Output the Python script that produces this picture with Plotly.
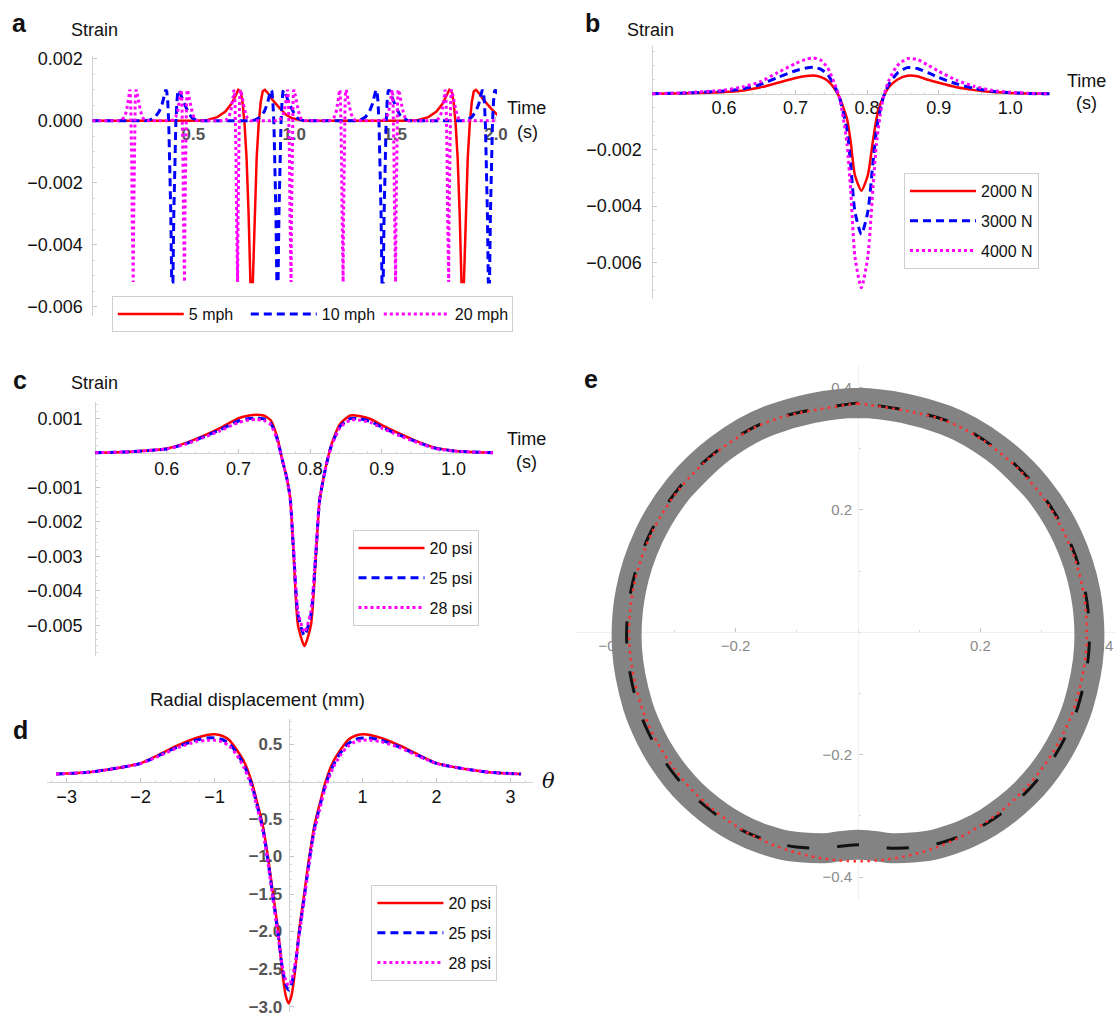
import math
import plotly.graph_objects as go

W, H = 1115, 1016
FONT = "Liberation Sans, Arial, Helvetica, sans-serif"
RED, BLUE, MAGENTA = "#ff0000", "#0000ff", "#ff00ff"

# ---------------- data ----------------
# panel a : pulse centres (s) and pulse profiles
A_CENTRES_5MPH = [0.789, 1.835]
A_CENTRES_10MPH = [0.396, 0.917, 1.438, 1.965]
A_CENTRES_20MPH = [0.201, 0.455, 0.718, 0.983, 1.241, 1.501, 1.764]
A_OFFSETS_5MPH = [-0.27, -0.22, -0.17, -0.13, -0.10, -0.08, -0.066, -0.055, -0.045, -0.035, -0.025,
                  -0.015, -0.006, 0.006, 0.015, 0.025, 0.035, 0.045, 0.055, 0.066, 0.08, 0.10, 0.14,
                  0.17, 0.20, 0.26]
A_OFFSETS_10MPH = [-0.135, -0.11, -0.085, -0.065, -0.05, -0.04, -0.033, -0.0275, -0.0225, -0.0175,
                   -0.0125, -0.0075, -0.003, 0.003, 0.0075, 0.0125, 0.0175, 0.0225, 0.0275, 0.033,
                   0.04, 0.05, 0.07, 0.085, 0.10, 0.13]
A_OFFSETS_20MPH = [-0.0675, -0.055, -0.0425, -0.0325, -0.025, -0.02, -0.0165, -0.01375, -0.01125,
                   -0.00875, -0.00625, -0.00375, -0.0015, 0.0015, 0.00375, 0.00625, 0.00875, 0.01125,
                   0.01375, 0.0165, 0.02, 0.025, 0.035, 0.0425, 0.05, 0.065]
A_PULSE_STRAIN = [0, 0.00003, 0.00012, 0.0003, 0.00055, 0.0008, 0.001, 0.00095, 0.0006, -0.0001,
                  -0.0012, -0.003, -0.0052, -0.0052, -0.003, -0.0012, -0.0001, 0.0006, 0.00095, 0.001,
                  0.0009, 0.0007, 0.0004, 0.0002, 0.00008, 0]
A_T_START, A_T_END = 0.0, 2.0

# panel b / c : time grid (s) and strain
T_BC = [0.5, 0.55, 0.6, 0.625, 0.65, 0.675, 0.7, 0.715, 0.725, 0.735, 0.745, 0.754, 0.761, 0.767,
        0.772, 0.777, 0.783, 0.792, 0.801, 0.808, 0.813, 0.818, 0.823, 0.83, 0.842, 0.856, 0.87,
        0.885, 0.9, 0.925, 0.95, 0.975, 1.0, 1.025, 1.055]
B_2000N = [0, 0.00002, 0.00006, 0.00011, 0.00022, 0.00039, 0.00056, 0.00063, 0.00065, 0.0006,
           0.00046, 0.0002, -0.0001, -0.0005, -0.0009, -0.0017, -0.0029, -0.00345, -0.0029, -0.0017,
           -0.0009, -0.0004, -0.0001, 0.00022, 0.0005, 0.00064, 0.00062, 0.0005, 0.00039, 0.00023,
           0.00013, 0.00006, 0.00003, 0.00001, 0]
B_3000N = [0, 0.00003, 0.0001, 0.00017, 0.00032, 0.00058, 0.00082, 0.00092, 0.00094, 0.00088,
           0.00068, 0.0003, -0.0001, -0.0007, -0.0013, -0.0025, -0.0042, -0.0050, -0.0042, -0.0025,
           -0.0013, -0.0006, -0.0001, 0.00032, 0.00073, 0.00093, 0.0009, 0.00075, 0.00058, 0.00035,
           0.00019, 0.00009, 0.00004, 0.00001, 0]
B_4000N = [0, 0.00004, 0.00013, 0.00024, 0.00042, 0.00075, 0.00108, 0.00123, 0.00127, 0.0012,
           0.00092, 0.0004, -0.0001, -0.0009, -0.0018, -0.0034, -0.0058, -0.0069, -0.0058, -0.0034,
           -0.0018, -0.0008, -0.0001, 0.00045, 0.001, 0.00125, 0.00122, 0.00102, 0.0008, 0.00048,
           0.00026, 0.00012, 0.00005, 0.00002, 0]
C_20PSI = [0, 0.00003, 0.00012, 0.00027, 0.00048, 0.00072, 0.001, 0.00108, 0.0011, 0.00108,
           0.00094, 0.00045, -0.0002, -0.0007, -0.0013, -0.003, -0.005, -0.0056, -0.005, -0.003,
           -0.0014, -0.0008, -0.0003, 0.00026, 0.00084, 0.00108, 0.00106, 0.00097, 0.0008, 0.00055,
           0.00032, 0.00014, 0.00006, 0.00002, 0]
C_25PSI = [0, 0.00003, 0.00011, 0.00025, 0.00045, 0.00067, 0.00092, 0.00099, 0.001, 0.00098,
           0.00085, 0.0004, -0.0002, -0.0007, -0.0013, -0.0029, -0.0047, -0.0053, -0.0047, -0.0029,
           -0.0014, -0.0008, -0.0003, 0.00023, 0.00077, 0.00099, 0.00098, 0.0009, 0.00074, 0.00051,
           0.0003, 0.00013, 0.00005, 0.00002, 0]
C_28PSI = [0, 0.00003, 0.00011, 0.00024, 0.00043, 0.00064, 0.00088, 0.00095, 0.00096, 0.00094,
           0.00081, 0.00037, -0.0002, -0.0007, -0.0013, -0.0028, -0.0046, -0.0052, -0.0046, -0.0028,
           -0.0014, -0.0008, -0.0003, 0.00021, 0.00074, 0.00095, 0.00094, 0.00087, 0.00071, 0.00049,
           0.00029, 0.00012, 0.00005, 0.00002, 0]

# panel d : angle (rad) and radial displacement (mm)
D_THETA = [-3.1416, -2.75, -2.5, -2.25, -2.0, -1.75, -1.5, -1.25, -1.1, -1.0, -0.9, -0.8, -0.7,
           -0.6, -0.5, -0.42, -0.35, -0.28, -0.21, -0.14, -0.09, -0.04, 0.0, 0.04, 0.09, 0.14, 0.21,
           0.28, 0.35, 0.42, 0.5, 0.6, 0.7, 0.8, 0.9, 1.0, 1.1, 1.25, 1.5, 1.75, 2.0, 2.25, 2.5,
           2.75, 3.1416]
D_20PSI = [0.10, 0.12, 0.15, 0.19, 0.245, 0.36, 0.48, 0.58, 0.62, 0.63, 0.61, 0.55, 0.42, 0.26, 0.0,
           -0.3, -0.58, -1.0, -1.5, -2.0, -2.5, -2.85, -2.96, -2.85, -2.5, -2.0, -1.5, -1.0, -0.58,
           -0.3, 0.0, 0.26, 0.42, 0.55, 0.61, 0.63, 0.62, 0.58, 0.48, 0.36, 0.245, 0.19, 0.15, 0.12,
           0.10]
D_25PSI = [0.10, 0.12, 0.15, 0.19, 0.24, 0.35, 0.46, 0.55, 0.58, 0.58, 0.56, 0.5, 0.38, 0.21, -0.04,
           -0.34, -0.62, -1.05, -1.55, -2.05, -2.45, -2.7, -2.78, -2.7, -2.45, -2.05, -1.55, -1.05,
           -0.62, -0.34, -0.04, 0.21, 0.38, 0.5, 0.56, 0.58, 0.58, 0.55, 0.46, 0.35, 0.24, 0.19, 0.15,
           0.12, 0.10]
D_28PSI = [0.10, 0.12, 0.15, 0.19, 0.24, 0.34, 0.45, 0.53, 0.55, 0.55, 0.53, 0.47, 0.35, 0.18, -0.07,
           -0.37, -0.65, -1.08, -1.58, -2.07, -2.42, -2.65, -2.72, -2.65, -2.42, -2.07, -1.58, -1.08,
           -0.65, -0.37, -0.07, 0.18, 0.35, 0.47, 0.53, 0.55, 0.55, 0.53, 0.45, 0.34, 0.24, 0.19, 0.15,
           0.12, 0.10]

# panel e : undeformed radius and exaggeration of the 20 psi displacement
E_R0 = 0.374
E_SCALE = 0.0091  # plot units per mm of radial displacement

A_NAMES = ["5 mph", "10 mph", "20 mph"]
B_NAMES = ["2000 N", "3000 N", "4000 N"]
C_NAMES = ["20 psi", "25 psi", "28 psi"]

A_YTICKS = [0.002, 0.0, -0.002, -0.004, -0.006]
A_YTEXT = ["0.002", "0.000", "\u22120.002", "\u22120.004", "\u22120.006"]
A_XTICKS = [0.5, 1.0, 1.5, 2.0]
A_XTEXT = ["0.5", "1.0", "1.5", "2.0"]
B_YTICKS = [-0.002, -0.004, -0.006]
B_YTEXT = ["\u22120.002", "\u22120.004", "\u22120.006"]
BC_XTICKS = [0.6, 0.7, 0.8, 0.9, 1.0]
BC_XTEXT = ["0.6", "0.7", "0.8", "0.9", "1.0"]
C_YTICKS = [0.001, -0.001, -0.002, -0.003, -0.004, -0.005]
C_YTEXT = ["0.001", "\u22120.001", "\u22120.002", "\u22120.003", "\u22120.004", "\u22120.005"]
D_XTICKS = [-3, -2, -1, 1, 2, 3]
D_XTEXT = ["\u22123", "\u22122", "\u22121", "1", "2", "3"]
D_YTICKS = [0.5, -0.5, -1.0, -1.5, -2.0, -2.5, -3.0]
D_YTEXT = ["0.5", "\u22120.5", "\u22121.0", "\u22121.5", "\u22122.0", "\u22122.5", "\u22123.0"]
E_TICKS = [-0.4, -0.2, 0.2, 0.4]
E_TEXT = ["\u22120.4", "\u22120.2", "0.2", "0.4"]


def build_pulses(centres, offsets, values, t_start, t_end):
    xs, ys = [t_start], [0.0]
    for c in centres:
        for o, v in zip(offsets, values):
            xs.append(c + o)
            ys.append(v)
    if xs[-1] < t_end:
        xs.append(t_end)
        ys.append(0.0)
    return xs, ys


def polar_xy(theta, radius):
    xs = [r * math.sin(t) for t, r in zip(theta, radius)]
    ys = [-r * math.cos(t) for t, r in zip(theta, radius)]
    return xs, ys


# ---------------- layout helpers ----------------
def dom_x(l, r):
    return [l / W, r / W]


def dom_y(t, b):
    return [1 - b / H, 1 - t / H]


def cross(dom, rng, v):
    return dom[0] + (v - rng[0]) / (rng[1] - rng[0]) * (dom[1] - dom[0])


AXLINE = "#d0d0d0"


def axis(dom, rng, pos, tickvals, ticktext, font, standoff, minor_dtick=None):
    d = dict(domain=dom, range=rng, anchor="free", position=pos, showgrid=False, zeroline=False,
             showline=True, linecolor=AXLINE, linewidth=1, ticks="inside", ticklen=4,
             tickcolor="#c4c4c4", tickwidth=1, tickmode="array", tickvals=tickvals,
             ticktext=ticktext, tickfont=font, ticklabelstandoff=standoff,
             ticklabeloverflow="allow",
             layer="below traces", automargin=False, fixedrange=True)
    if minor_dtick is not None:
        d["minor"] = dict(ticks="inside", ticklen=2, tickcolor="#dadada", dtick=minor_dtick, tick0=0)
    return d


BLACK18 = dict(family=FONT, size=18, color="#111111")
GRAYB = dict(family=FONT, size=17, color="#555555", weight="bold")
GRAYE = dict(family=FONT, size=15, color="#8a8a8a")

# panel frames (pixel domains + ranges)
AX_XD, AX_XR = dom_x(92.4, 497.0), [0.0, 2.005]
AX_YD, AX_YR = dom_y(55.7, 316.1), [-0.0063, 0.0021]
BX_XD, BX_XR = dom_x(652.3, 1049.7), [0.5, 1.055]
BX_YD, BX_YR = dom_y(46.0, 298.9), [-0.0073, 0.0017]
CX_XD, CX_XR = dom_x(95.1, 493.0), [0.5, 1.055]
CX_YD, CX_YR = dom_y(402.0, 656.3), [-0.0059, 0.00147]
DX_XD, DX_XR = dom_x(47.4, 532.8), [-3.26, 3.3]
DX_YD, DX_YR = dom_y(718.5, 1011.8), [-3.07, 0.84]
EX_XD, EX_XR = dom_x(575.0, 1115.0), [-0.4624, 0.4199]
EX_YD, EX_YR = dom_y(365.0, 900.0), [-0.4374, 0.4368]

fig = go.Figure()

# ---------------- panel a ----------------
styles = [dict(color=RED, width=2.5),
          dict(color=BLUE, width=3, dash="8px,5px"),
          dict(color=MAGENTA, width=3, dash="3px,3px")]
a_series = [(A_CENTRES_5MPH, A_OFFSETS_5MPH), (A_CENTRES_10MPH, A_OFFSETS_10MPH),
            (A_CENTRES_20MPH, A_OFFSETS_20MPH)]
for (cen, off), name, st in zip(a_series, A_NAMES, styles):
    xs, ys = build_pulses(cen, off, A_PULSE_STRAIN, A_T_START, A_T_END)
    fig.add_trace(go.Scatter(x=xs, y=ys, mode="lines", line=st, name=name, xaxis="x", yaxis="y",
                             legend="legend", hoverinfo="skip"))

# ---------------- panel b ----------------
for vals, name, st, g in zip([B_2000N, B_3000N, B_4000N], B_NAMES, styles, ["b1", "b2", "b3"]):
    fig.add_trace(go.Scatter(x=T_BC, y=vals, mode="lines", line=dict(st, shape="spline", smoothing=0.6),
                             name=name, xaxis="x2", yaxis="y2", legend="legend2", legendgroup=g,
                             hoverinfo="skip"))

# ---------------- panel c ----------------
for vals, name, st, g in zip([C_20PSI, C_25PSI, C_28PSI], C_NAMES, styles, ["c1", "c2", "c3"]):
    fig.add_trace(go.Scatter(x=T_BC, y=vals, mode="lines", line=dict(st, shape="spline", smoothing=0.6),
                             name=name, xaxis="x3", yaxis="y3", legend="legend3", legendgroup=g,
                             hoverinfo="skip"))

# ---------------- panel d ----------------
for vals, name, st, g in zip([D_20PSI, D_25PSI, D_28PSI], C_NAMES, styles, ["d1", "d2", "d3"]):
    fig.add_trace(go.Scatter(x=D_THETA, y=vals, mode="lines", line=dict(st, shape="spline", smoothing=0.8),
                             name=name, xaxis="x4", yaxis="y4", legend="legend4", legendgroup=g,
                             hoverinfo="skip"))

# ---------------- panel e ----------------
# the loop is continued a little past its start so the thick band closes without a seam
theta_loop = D_THETA[-4:-1] + D_THETA + D_THETA[1:4]
disp_loop = D_20PSI[-4:-1] + D_20PSI + D_20PSI[1:4]
r_def_loop = [E_R0 + E_SCALE * u for u in disp_loop]
r_def = [E_R0 + E_SCALE * u for u in D_20PSI]
r_und = [E_R0 for _ in D_THETA]
bx, by = polar_xy(theta_loop, r_def_loop)
ex, ey = polar_xy(D_THETA, r_def)
ux, uy = polar_xy(D_THETA, r_und)
fig.add_trace(go.Scatter(x=bx, y=by, mode="lines", line=dict(color="#838383", width=30, shape="spline"),
                         xaxis="x5", yaxis="y5", showlegend=False, hoverinfo="skip"))
fig.add_trace(go.Scatter(x=ex, y=ey, mode="lines",
                         line=dict(color="#111111", width=3, dash="22px,28px", shape="spline"),
                         xaxis="x5", yaxis="y5", showlegend=False, hoverinfo="skip"))
fig.add_trace(go.Scatter(x=ux, y=uy, mode="lines",
                         line=dict(color="#ff3030", width=2.5, dash="2.5px,4.5px", shape="spline"),
                         xaxis="x5", yaxis="y5", showlegend=False, hoverinfo="skip"))

# ---------------- axes ----------------
layout = dict(
    width=W, height=H, margin=dict(l=0, r=0, t=0, b=0),
    paper_bgcolor="white", plot_bgcolor="rgba(0,0,0,0)",
    font=dict(family=FONT, color="#111111"),
    xaxis=axis(AX_XD, AX_XR, cross(AX_YD, AX_YR, 0.0), A_XTICKS, A_XTEXT, GRAYB, -2, 0.1),
    yaxis=axis(AX_YD, AX_YR, cross(AX_XD, AX_XR, 0.0), A_YTICKS, A_YTEXT, BLACK18, 6, 0.0005),
    xaxis2=axis(BX_XD, BX_XR, cross(BX_YD, BX_YR, 0.0), BC_XTICKS, BC_XTEXT, BLACK18, -2, 0.02),
    yaxis2=axis(BX_YD, BX_YR, cross(BX_XD, BX_XR, 0.5), B_YTICKS, B_YTEXT, BLACK18, 7, 0.0005),
    xaxis3=axis(CX_XD, CX_XR, cross(CX_YD, CX_YR, 0.0), BC_XTICKS, BC_XTEXT, BLACK18, 0, 0.02),
    yaxis3=axis(CX_YD, CX_YR, cross(CX_XD, CX_XR, 0.5), C_YTICKS, C_YTEXT, BLACK18, 9, 0.0002),
    xaxis4=axis(DX_XD, DX_XR, cross(DX_YD, DX_YR, 0.0), D_XTICKS, D_XTEXT, BLACK18, -1, 0.2),
    yaxis4=axis(DX_YD, DX_YR, cross(DX_XD, DX_XR, 0.0), D_YTICKS, D_YTEXT, GRAYB, 3, 0.1),
    xaxis5=axis(EX_XD, EX_XR, cross(EX_YD, EX_YR, 0.0), E_TICKS, E_TEXT, GRAYE, 0, 0.1),
    yaxis5=axis(EX_YD, EX_YR, cross(EX_XD, EX_XR, 0.0), E_TICKS, E_TEXT, GRAYE, 3, 0.1),
)
layout["xaxis5"]["linecolor"] = "#f0f0f0"
layout["yaxis5"]["linecolor"] = "#f0f0f0"

LEG = dict(bgcolor="white", bordercolor="#cfcfcf", borderwidth=1,
           font=dict(family=FONT, size=16, color="#111111"), xanchor="left", yanchor="top",
           itemwidth=66, itemclick=False, itemdoubleclick=False)
layout["legend"] = dict(LEG, x=111.8 / W, y=1 - 296 / H, orientation="h",
                        entrywidth=52, entrywidthmode="pixels")
layout["legend2"] = dict(LEG, x=904 / W, y=1 - 173 / H, orientation="v", tracegroupgap=6)
layout["legend3"] = dict(LEG, x=352.5 / W, y=1 - 530 / H, orientation="v", tracegroupgap=6)
layout["legend4"] = dict(LEG, x=371.4 / W, y=1 - 885 / H, orientation="v", tracegroupgap=6)


def note(text, px, py, size=18, **kw):
    f = dict(family=kw.pop("family", FONT), size=size, color=kw.pop("color", "#111111"))
    if "weight" in kw:
        f["weight"] = kw.pop("weight")
    if "style" in kw:
        f["style"] = kw.pop("style")
    return dict(text=text, x=px / W, y=1 - py / H, xref="paper", yref="paper", showarrow=False,
                xanchor="center", yanchor="middle", font=f, **kw)


annotations = [
    note("a", 19.6, 23, 25, weight="bold"),
    note("b", 592, 23, 25, weight="bold"),
    note("c", 19.6, 380, 25, weight="bold"),
    note("d", 20.7, 730, 25, weight="bold"),
    note("e", 591, 379, 25, weight="bold"),
    note("Strain", 94.6, 30),
    note("Time", 526.8, 108),
    note("(s)", 527, 132),
    note("Strain", 650.3, 30),
    note("Time", 1086.4, 81),
    note("(s)", 1086, 103),
    note("Strain", 94.6, 383),
    note("Time", 526.8, 439),
    note("(s)", 526.8, 462),
    note("Radial displacement (mm)", 257, 699, 18.5),
    note("\u03b8", 548, 781, 21, family="DejaVu Serif, Liberation Serif, serif", style="italic"),
]
layout["annotations"] = annotations

fig.update_layout(**layout)
fig.write_html("out.html")
